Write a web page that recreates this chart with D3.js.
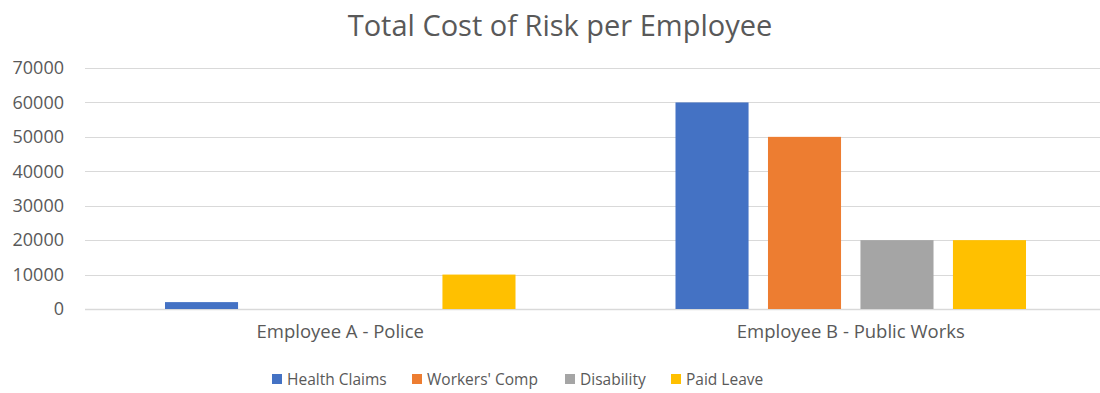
<!DOCTYPE html>
<html>
<head>
<meta charset="utf-8">
<script src="https://cdn.jsdelivr.net/npm/d3@7"></script>
<style>
  body { margin: 0; background: #fff; }
  text { font-family: "Open Sans", "Noto Sans", sans-serif; fill: #595959; }
</style>
</head>
<body>
<svg class="chart" width="1100" height="393"></svg>
<script>
const categories = ["Employee A - Police", "Employee B - Public Works"]
const series = ["Health Claims", "Workers' Comp", "Disability", "Paid Leave"]
const colors = ["#4472c4", "#ed7d31", "#a5a5a5", "#ffc000"]
const healthClaims = [2000, 60000]
const workersComp = [0, 50000]
const disability = [0, 20000]
const paidLeave = [10000, 20000]
const yTicks = [0, 10000, 20000, 30000, 40000, 50000, 60000, 70000]

const values = [healthClaims, workersComp, disability, paidLeave]
const rows = []
categories.forEach(function(c, i){
    series.forEach(function(s, j){
        rows.push({cat: c, ser: s, value: values[j][i], color: colors[j]})
    })
})

const svg = d3.select('.chart')

const x0 = d3.scaleBand(categories, [85, 1106])
const x1 = d3.scaleBand(series, [0, x0.bandwidth()]).paddingInner(0.21).paddingOuter(0.865)
const y = d3.scaleLinear([0, 70000], [309, 68])

// GRID
svg.append('g')
    .selectAll('line')
    .data(yTicks)
    .join('line')
    .attr('x1', 85)
    .attr('x2', 1106)
    .attr('y1', d => Math.round(y(d)) + 0.5)
    .attr('y2', d => Math.round(y(d)) + 0.5)
    .attr('stroke', '#d9d9d9')
    .attr('stroke-width', d => d === 0 ? 1.5 : 1)

// Y AXIS
const yAxis = d3.axisLeft(y).tickValues(yTicks).tickFormat(d3.format('d')).tickSize(0).tickPadding(0)
svg.append('g')
    .attr('transform', 'translate(64,0)')
    .call(yAxis)
    .call(g => g.select('.domain').remove())
    .selectAll('text')
    .attr('font-size', '18px')
    .attr('fill', '#595959')
    .style('font-family', '"Open Sans", "Noto Sans", sans-serif')

// BARS
svg.append('g')
    .selectAll('rect')
    .data(rows)
    .join('rect')
    .attr('x', d => x0(d.cat) + x1(d.ser))
    .attr('width', x1.bandwidth())
    .attr('y', d => y(d.value))
    .attr('height', d => y(0) - y(d.value))
    .attr('fill', d => d.color)

// X AXIS LABELS
const xAxis = d3.axisBottom(x0).tickSize(0).tickPadding(0)
svg.append('g')
    .attr('transform', 'translate(0,325)')
    .call(xAxis)
    .call(g => g.select('.domain').remove())
    .selectAll('text')
    .attr('font-size', '18.5px')
    .attr('fill', '#595959')
    .style('font-family', '"Open Sans", "Noto Sans", sans-serif')

// TITLE
svg.append('text')
    .text('Total Cost of Risk per Employee')
    .attr('x', 560)
    .attr('y', 36)
    .attr('text-anchor', 'middle')
    .attr('font-size', '29px')

// LEGEND
const legendX = [272, 412, 565, 671]
const legend = svg.append('g')
    .selectAll('g')
    .data(series)
    .join('g')
    .attr('transform', (d, i) => `translate(${legendX[i]},380)`)
legend.append('rect')
    .attr('x', 0)
    .attr('y', -6)
    .attr('width', 10)
    .attr('height', 10)
    .attr('fill', (d, i) => colors[i])
legend.append('text')
    .text(d => d)
    .attr('x', 15)
    .attr('y', 5)
    .attr('font-size', '15.5px')
</script>
</body>
</html>
